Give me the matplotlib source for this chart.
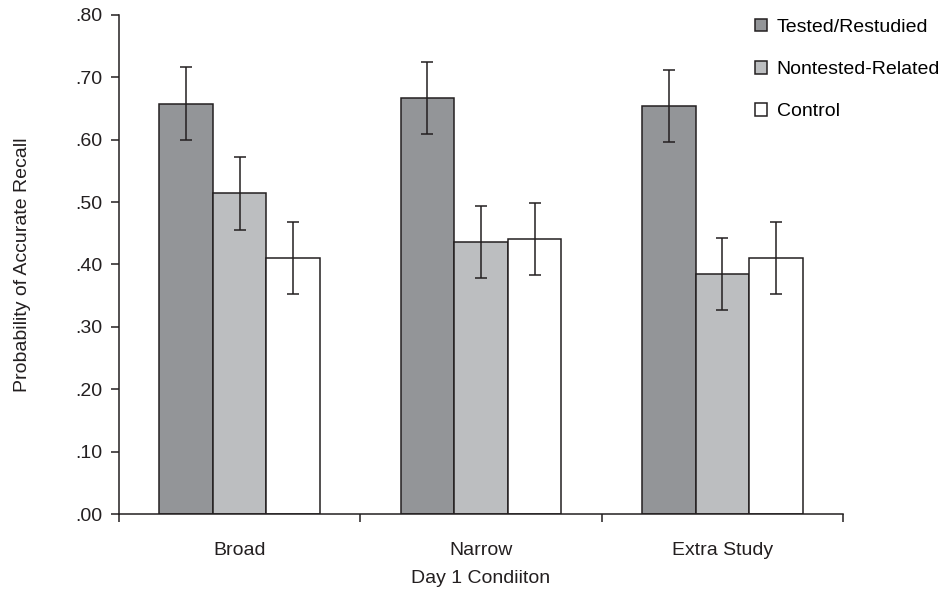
import numpy as np
import matplotlib.pyplot as plt

# data
conditions = ["Broad", "Narrow", "Extra Study"]
groups = ["Tested/Restudied", "Nontested-Related", "Control"]
tested = [0.658, 0.667, 0.654]
nontested = [0.514, 0.436, 0.385]
control = [0.410, 0.441, 0.410]
tested_err = [0.058, 0.058, 0.058]
nontested_err = [0.058, 0.058, 0.058]
control_err = [0.058, 0.058, 0.058]

plt.rcParams['font.family'] = ['Liberation Sans', 'DejaVu Sans']

fig = plt.figure(figsize=(9.42, 5.90), dpi=100)
ax = fig.add_axes([0.1263, 0.1288, 0.7686, 0.8458])

x = np.arange(len(conditions))
w = 0.222
colors = ['#939598', '#bcbec0', '#ffffff']
series = [tested, nontested, control]
errs = [tested_err, nontested_err, control_err]
for i, (vals, err, col, name) in enumerate(zip(series, errs, colors, groups)):
    ax.bar(x + (i - 1) * w, vals, w, color=col, edgecolor='#231f20', linewidth=1.1,
           label=name, zorder=2)
    ax.errorbar(x + (i - 1) * w, vals, yerr=err, fmt='none', ecolor='#231f20',
                elinewidth=1.1, capsize=4, capthick=1.1, zorder=3)

ax.set_xlim(-0.5, 2.5)
ax.set_ylim(0, 0.80)
yt = np.arange(0, 0.81, 0.1)
ax.set_yticks(yt)
ax.set_yticklabels(['.%02d' % round(v * 100) for v in yt], fontsize=14, color='#231f20')
ax.set_xticks(x)
ax.set_xticklabels(conditions, fontsize=14, color='#231f20')
ax.set_xticks([-0.5, 0.5, 1.5, 2.5], minor=True)
ax.tick_params(axis='x', which='major', length=0, pad=20)
ax.tick_params(axis='x', which='minor', length=6, width=1.1, color='#231f20')
ax.tick_params(axis='y', length=6, width=1.1, color='#231f20', pad=6)

for s in ['top', 'right']:
    ax.spines[s].set_visible(False)
for s in ['left', 'bottom']:
    ax.spines[s].set_linewidth(1.1)
    ax.spines[s].set_color('#231f20')

ax.set_xlabel("Day 1 Condiiton", fontsize=14, color='#231f20', labelpad=8)
ax.set_ylabel("Probability of Accurate Recall", fontsize=14, color='#231f20', labelpad=32)

fig.legend(loc='upper left', bbox_to_anchor=(755 / 942, 0.968), frameon=False, fontsize=14,
           borderpad=0, borderaxespad=0, handlelength=0.62, handleheight=0.62,
           handletextpad=0.5, labelspacing=1.28)

fig.savefig("out.png", dpi=100)
